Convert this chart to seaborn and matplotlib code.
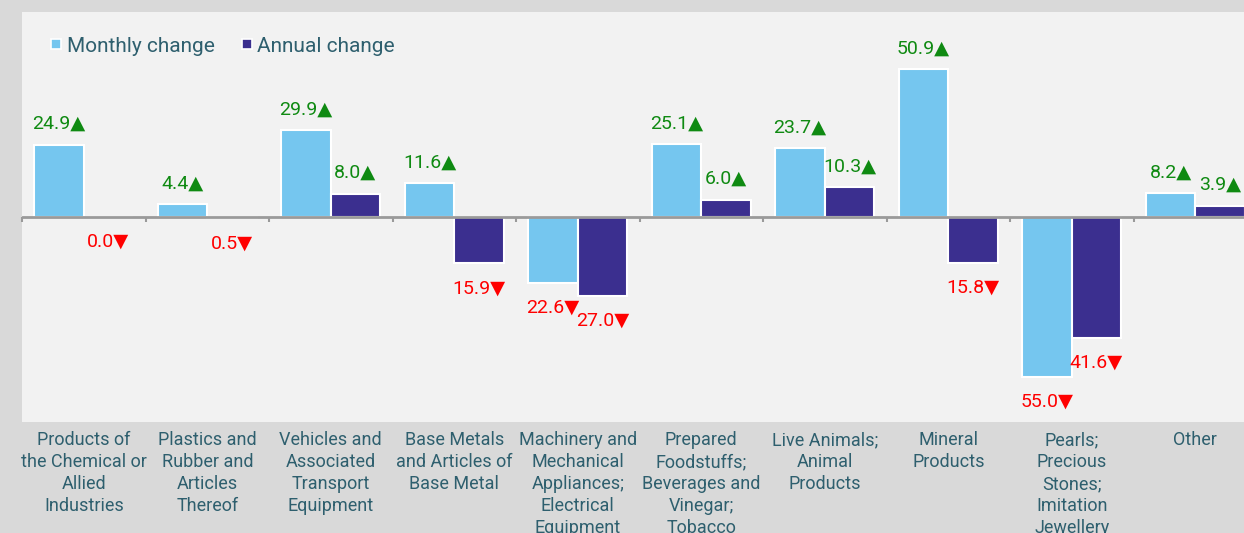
import numpy as np
import pandas as pd
import matplotlib.pyplot as plt
import seaborn as sns
from matplotlib.lines import Line2D

# data (sign taken from the arrow)
categories = [
    "Products of\nthe Chemical or\nAllied\nIndustries",
    "Plastics and\nRubber and\nArticles\nThereof",
    "Vehicles and\nAssociated\nTransport\nEquipment",
    "Base Metals\nand Articles of\nBase Metal",
    "Machinery and\nMechanical\nAppliances;\nElectrical\nEquipment",
    "Prepared\nFoodstuffs;\nBeverages and\nVinegar;\nTobacco",
    "Live Animals;\nAnimal\nProducts",
    "Mineral\nProducts",
    "Pearls;\nPrecious\nStones;\nImitation\nJewellery",
    "Other",
]
monthly = [24.9, 4.4, 29.9, 11.6, -22.6, 25.1, 23.7, 50.9, -55.0, 8.2]
annual = [0.0, -0.5, 8.0, -15.9, -27.0, 6.0, 10.3, -15.8, -41.6, 3.9]
series = ["Monthly change", "Annual change"]
colors = ["#75c6ef", "#3b2f8f"]

df = pd.DataFrame({
    "category": categories * 2,
    "series": [series[0]] * len(categories) + [series[1]] * len(categories),
    "value": monthly + annual,
})

sns.set_theme(style="white")
plt.rcParams["font.family"] = ["Roboto", "DejaVu Sans"]

text_col = "#2e5f6e"
fig = plt.figure(figsize=(12.44, 5.33), dpi=100, facecolor="#d9d9d9")
ax = fig.add_axes([22 / 1244, 111 / 533, 1235 / 1244, 410 / 533])
ax.set_facecolor("#f2f2f2")

sns.barplot(data=df, x="category", y="value", hue="series", palette=colors,
            saturation=1, width=0.8, edgecolor="white", linewidth=1.5,
            errorbar=None, legend=False, ax=ax)

# value labels with arrows
for cont, vals in zip(ax.containers, [monthly, annual]):
    for p, v in zip(cont, vals):
        x = p.get_x() + p.get_width() / 2
        if v > 0:
            ax.annotate(f"{abs(v):.1f}\u25B2", (x, v), xytext=(0, 8.5),
                        textcoords="offset points", ha="center", va="bottom",
                        fontsize=14, color="#0f8a12")
        else:
            ax.annotate(f"{abs(v):.1f}\u25BC", (x, v), xytext=(0, -11.5),
                        textcoords="offset points", ha="center", va="top",
                        fontsize=14, color="#ff0000")

# zero line with ticks at category boundaries
ax.axhline(0, color="#9a9a9a", lw=2, zorder=4)
ax.vlines(np.arange(len(categories) + 1) - 0.5, 0, -1.8, color="#9a9a9a",
          lw=1.5, zorder=4, clip_on=False)

ax.set_xlim(-0.5, len(categories) - 0.5)
ax.set_ylim(-70.5, 70.5)
ax.set_yticks([])
ax.set_xlabel("")
ax.set_ylabel("")
for s in ax.spines.values():
    s.set_visible(False)
ax.tick_params(axis="x", length=0, pad=6.5, labelsize=13, labelcolor=text_col)
for lbl in ax.get_xticklabels():
    lbl.set_linespacing(1.28)

handles = [Line2D([], [], marker="s", ls="", markersize=7.5, markerfacecolor=c,
                  markeredgecolor="white", markeredgewidth=1.2) for c in colors]
ax.legend(handles, series, loc="center left", bbox_to_anchor=(0.0235, 0.917),
          ncol=2, frameon=False, fontsize=15, labelcolor=text_col,
          handlelength=0.5, handletextpad=0.25, columnspacing=1.3,
          borderpad=0, borderaxespad=0)

fig.savefig("out.png", dpi=100, facecolor=fig.get_facecolor())
